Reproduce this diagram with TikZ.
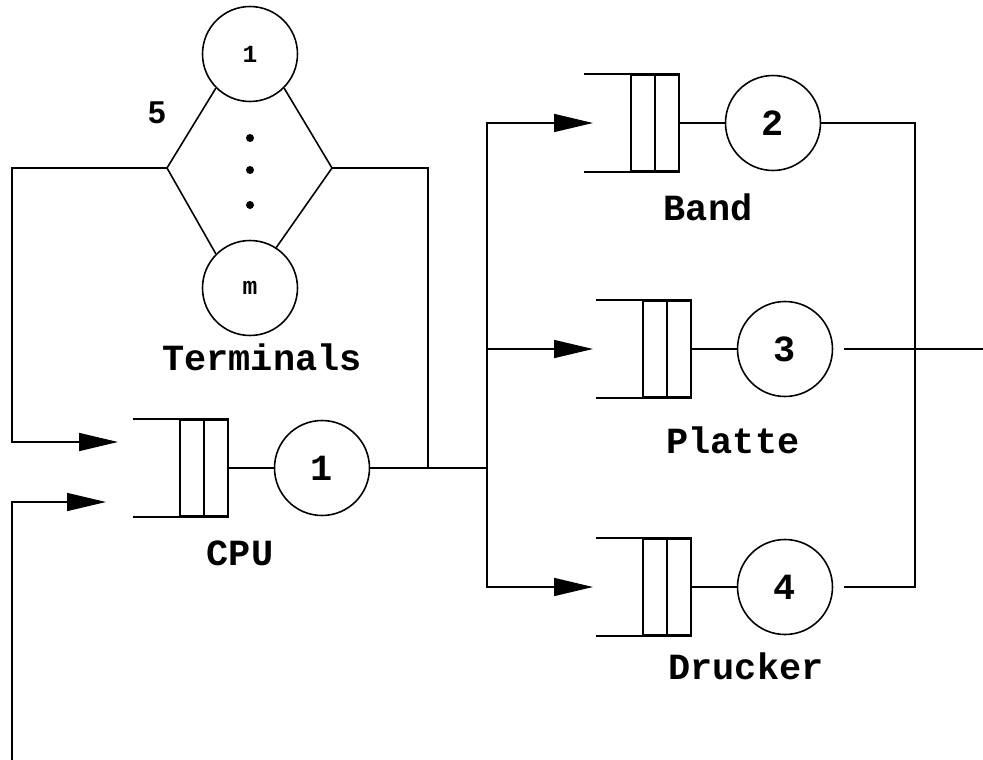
\documentclass[tikz,border=0pt]{standalone}
\usepackage{fontspec}
\setmainfont{Liberation Sans}
\setmonofont{Liberation Mono}
\usepackage{tikz}
\usetikzlibrary{arrows.meta, positioning}
\tikzset{
  server/.style={circle, draw, line width=0.9pt, minimum size=1.9cm, inner sep=0pt,
    font=\fontsize{21}{24}\selectfont\ttfamily\bfseries},
  terminal/.style={server, font=\fontsize{14}{16}\selectfont\ttfamily\bfseries},
  slots/.style={rectangle, draw, line width=0.9pt, minimum width=0.96cm,
    minimum height=1.92cm, inner sep=0pt,
    path picture={\draw[line width=0.9pt] (path picture bounding box.north)
      -- (path picture bounding box.south);}},
  qlabel/.style={font=\fontsize{21}{24}\selectfont\ttfamily\bfseries},
  dot/.style={circle, fill, minimum size=0.16cm, inner sep=0pt},
  arrow/.style={-{Triangle[length=0.78cm, width=0.36cm]}, line width=0.9pt},
  wire/.style={line width=0.9pt},
}
% queue: slot box plus open top and bottom lines
\newcommand{\queuebox}[2]{%
  \node[slots] (#1) at (#2) {};
  \draw[wire] (#1.north east) -- ++(-96,0);
  \draw[wire] (#1.south east) -- ++(-96,0);
}

\begin{document}
\begin{tikzpicture}[x=0.02cm, y=-0.02cm]
  \useasboundingbox (0,0) rectangle (983,760);

  % terminals
  \node[terminal] (t1) at (250,54) {1};
  \node[terminal] (tm) at (250,288) {m};
  \node[dot] (d1) at (250,138) {};
  \node[dot] (d2) at (250,170) {};
  \node[dot] (d3) at (250,205) {};
  \coordinate (tl) at (167,168);
  \coordinate (tr) at (332,168);
  \draw[wire] (t1.225) -- (tl) -- (tm.135);
  \draw[wire] (t1.315) -- (tr) -- (tm.57);
  \node[font=\fontsize{18}{20}\selectfont\bfseries] (five) at (157,113) {5};
  \node[qlabel] (termlbl) at (262,357) {Terminals};

  % cpu
  \queuebox{cpuq}{204,468}
  \node[server] (cpu) at (322,468) {1};
  \node[qlabel] (cpulbl) at (240,553) {CPU};

  % devices
  \queuebox{bandq}{655,123}
  \node[server] (band) at (773,123) {2};
  \node[qlabel] (bandlbl) at (708,207) {Band};
  \queuebox{platq}{667,349}
  \node[server] (plat) at (785,349) {3};
  \node[qlabel] (platlbl) at (733,440) {Platte};
  \queuebox{drucq}{667,587}
  \node[server] (druc) at (785,587) {4};
  \node[qlabel] (druclbl) at (746,666) {Drucker};

  \coordinate (cpuin1) at (118,442);
  \coordinate (cpuin2) at (106,502);
  \coordinate (botin) at (12,760);
  \coordinate (tjoin) at (428,468);
  \coordinate (split) at (487,468);
  \coordinate (bandin) at (593,123);
  \coordinate (platin) at (593,349);
  \coordinate (drucin) at (593,587);
  \coordinate (rbot) at (915,587);
  \coordinate (out) at (983,349);

  % connectors
  \draw[arrow] (tl) -- ++(-155,0) |- (cpuin1);
  \draw[arrow] (botin) |- (cpuin2);
  \draw[wire] (tr) -| (tjoin);
  \draw[wire] (cpuq) -- (cpu);
  \draw[wire] (cpu) -- (split);
  \draw[arrow] (split) |- (bandin);
  \draw[arrow] (split) -- (split |- platin) -- (platin);
  \draw[arrow] (split) |- (drucin);
  \draw[wire] (bandq) -- (band);
  \draw[wire] (platq) -- (plat);
  \draw[wire] (drucq) -- (druc);
  \draw[wire, shorten >=0.22cm] (band) -| (rbot) -- (druc);
  \draw[wire, shorten <=0.22cm] (plat) -- (out);
\end{tikzpicture}
\end{document}
